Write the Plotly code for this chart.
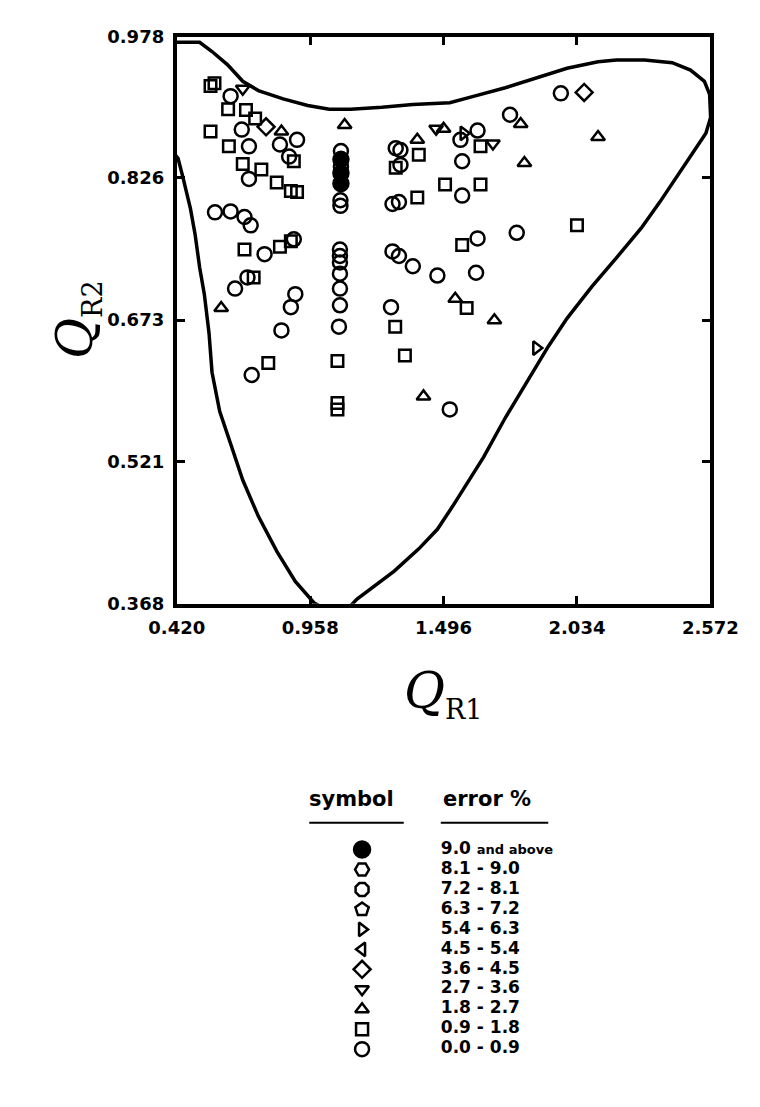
import plotly.graph_objects as go

FIG_W, FIG_H = 760, 1107

# ---------------- axis ticks ----------------
x_ticks = [0.420, 0.958, 1.496, 2.034, 2.572]
y_ticks = [0.368, 0.521, 0.673, 0.826, 0.978]

# ---------------- data ----------------
# error 0.0 - 0.9 : open circles
circ_x = [0.637, 0.682, 0.905, 0.836, 0.711, 0.873, 0.711,
          1.082, 1.082, 1.080, 1.080,
          1.078, 1.078, 1.078, 1.078, 1.078, 1.078, 1.074,
          1.303, 1.322, 1.322, 1.290, 1.316,
          1.564, 1.633, 1.571, 1.571, 1.764, 1.969, 1.791, 1.633, 1.627, 1.471,
          1.290, 1.316, 1.372, 1.284, 1.521,
          0.574, 0.637, 0.693, 0.718, 0.774, 0.892, 0.705, 0.655, 0.898, 0.880, 0.842, 0.722]
circ_y = [0.914, 0.878, 0.867, 0.862, 0.860, 0.849, 0.825,
          0.855, 0.838, 0.802, 0.796,
          0.749, 0.742, 0.735, 0.723, 0.707, 0.689, 0.666,
          0.858, 0.856, 0.840, 0.798, 0.800,
          0.867, 0.877, 0.844, 0.807, 0.894, 0.917, 0.767, 0.761, 0.724, 0.721,
          0.747, 0.742, 0.731, 0.687, 0.577,
          0.789, 0.790, 0.784, 0.775, 0.744, 0.760, 0.719, 0.707, 0.701, 0.687, 0.662, 0.614]

# error 0.9 - 1.8 : open squares
sq_x = [0.556, 0.572, 0.627, 0.699, 0.736, 0.556, 0.630, 0.892, 0.686, 0.761, 0.823, 0.880, 0.905,
        1.396, 1.303, 1.390, 1.502, 1.645, 1.645, 2.034, 1.571, 1.589,
        0.693, 0.836, 0.880, 0.730, 1.301, 0.789, 1.068, 1.340, 1.068, 1.068]
sq_y = [0.925, 0.928, 0.900, 0.899, 0.890, 0.876, 0.860, 0.844, 0.841, 0.835, 0.821, 0.812, 0.811,
        0.851, 0.837, 0.805, 0.819, 0.860, 0.819, 0.775, 0.754, 0.686,
        0.749, 0.752, 0.758, 0.719, 0.666, 0.627, 0.629, 0.635, 0.584, 0.577]

# error 1.8 - 2.7 : triangles up
tup_x = [0.842, 1.097, 1.390, 1.496, 1.807, 2.119, 1.822, 1.543, 1.701, 1.415, 0.599]
tup_y = [0.876, 0.883, 0.867, 0.879, 0.884, 0.870, 0.842, 0.696, 0.673, 0.591, 0.686]

# error 2.7 - 3.6 : triangles down
tdn_x = [0.686, 1.466, 1.695]
tdn_y = [0.922, 0.879, 0.863]

# error 3.6 - 4.5 : diamonds
dia_x = [2.063, 0.780]
dia_y = [0.918, 0.881]

# error 5.4 - 6.3 : triangles right
trr_x = [1.870, 1.577]
trr_y = [0.643, 0.874]

# error 9.0 and above : filled circles
fil_x = [1.082, 1.082, 1.082]
fil_y = [0.846, 0.831, 0.820]

# boundary of the feasible region
bnd_x = [0.4125, 0.425, 0.4435, 0.475, 0.494, 0.512, 0.531, 0.543, 0.550, 0.562, 0.593, 0.637,
         0.686, 0.749, 0.824, 0.898, 0.973, 1.048, 1.100, 1.147, 1.222, 1.297, 1.396, 1.471,
         1.533, 1.658, 1.745, 1.832, 1.919, 1.994, 2.094, 2.193, 2.293, 2.368, 2.430, 2.492,
         2.554, 2.573, 2.569, 2.548, 2.492, 2.418, 2.306, 2.193, 2.119, 1.994, 1.870, 1.745,
         1.620, 1.521, 1.372, 1.247, 1.122, 1.035, 0.948, 0.849, 0.749, 0.686, 0.624, 0.562,
         0.512, 0.419, 0.380, 0.380, 0.4125]
bnd_y = [0.851, 0.847, 0.828, 0.793, 0.765, 0.730, 0.701, 0.677, 0.659, 0.617, 0.575, 0.540,
         0.501, 0.462, 0.424, 0.392, 0.369, 0.358, 0.360, 0.373, 0.388, 0.403, 0.427, 0.448,
         0.473, 0.526, 0.568, 0.607, 0.645, 0.675, 0.709, 0.740, 0.772, 0.800, 0.825, 0.849,
         0.874, 0.891, 0.916, 0.930, 0.942, 0.950, 0.953, 0.953, 0.951, 0.944, 0.934, 0.923,
         0.914, 0.907, 0.905, 0.902, 0.900, 0.900, 0.904, 0.911, 0.920, 0.930, 0.948, 0.962,
         0.972, 0.972, 0.972, 0.851, 0.851]

# legend table
legend_labels = ["9.0 <span style='font-size:13px'>and above</span>", "8.1 - 9.0", "7.2 - 8.1",
                 "6.3 - 7.2", "5.4 - 6.3", "4.5 - 5.4", "3.6 - 4.5", "2.7 - 3.6",
                 "1.8 - 2.7", "0.9 - 1.8", "0.0 - 0.9"]
legend_symbols = ["circle", "hexagon2-open", "octagon-open", "pentagon-open",
                  "triangle-right-open", "triangle-left-open", "diamond-open",
                  "triangle-down-open", "triangle-up-open", "square-open", "circle-open"]
legend_sizes = [16, 14, 14, 14, 12, 12, 13, 12, 12, 12, 14]

# ---------------- figure ----------------
BOLD = dict(family="DejaVu Sans", color="black", weight="bold")
fig = go.Figure()

fig.add_trace(go.Scatter(x=bnd_x, y=bnd_y, mode="lines",
                         line=dict(color="black", width=3.5), hoverinfo="skip"))

series = [
    (circ_x, circ_y, "circle-open", 14),
    (sq_x, sq_y, "square-open", 11.5),
    (tup_x, tup_y, "triangle-up-open", 12),
    (tdn_x, tdn_y, "triangle-down-open", 12),
    (dia_x, dia_y, "diamond-open", 13),
    (trr_x, trr_y, "triangle-right-open", 12),
    (fil_x, fil_y, "circle", 15),
]
for xs, ys, sym, sz in series:
    fig.add_trace(go.Scatter(
        x=xs, y=ys, mode="markers",
        marker=dict(symbol=sym, size=sz, color="black", opacity=1,
                    line=dict(color="black", width=2.5)),
        cliponaxis=False))

# legend table below the plot
SYM_COL, TXT_COL = 352, 437
rows = list(range(len(legend_labels)))
fig.add_trace(go.Scatter(
    x=[SYM_COL] * len(rows), y=rows, xaxis="x2", yaxis="y2", mode="markers",
    marker=dict(symbol=legend_symbols, size=legend_sizes, color="black", opacity=1,
                line=dict(color="black", width=2.5))))
fig.add_trace(go.Scatter(
    x=[TXT_COL] * len(rows), y=rows, xaxis="x2", yaxis="y2", mode="text",
    text=legend_labels, textposition="middle right",
    textfont=dict(size=17, **BOLD)))

annotations = [
    dict(x=341, y=-2.54, xref="x2", yref="y2", text="symbol", showarrow=False,
         xanchor="center", yanchor="middle", font=dict(size=21, **BOLD)),
    dict(x=TXT_COL, y=-2.54, xref="x2", yref="y2", text="error %", showarrow=False,
         xanchor="left", yanchor="middle", font=dict(size=21, **BOLD)),
    # axis titles
    dict(x=44 / FIG_W, y=1 - 306 / FIG_H, xref="paper", yref="paper",
         text="<i>Q</i><sub><span style='font-size:27px'>R2</span></sub>",
         textangle=-90, showarrow=False, xanchor="center", yanchor="middle",
         font=dict(family="DejaVu Serif", size=50, color="black")),
    dict(x=440 / FIG_W, y=1 - 688 / FIG_H, xref="paper", yref="paper",
         text="<i>Q</i><sub><span style='font-size:27px'>R1</span></sub>",
         showarrow=False, xanchor="center", yanchor="middle",
         font=dict(family="DejaVu Serif", size=50, color="black")),
]

shapes = [
    dict(type="line", xref="x2", yref="y2", x0=295, x1=397, y0=-1.34, y1=-1.34,
         line=dict(color="black", width=2)),
    dict(type="line", xref="x2", yref="y2", x0=437, x1=553, y0=-1.34, y1=-1.34,
         line=dict(color="black", width=2)),
]

axis_common = dict(ticks="inside", ticklen=8, tickwidth=2.5, tickcolor="black",
                   showline=True, linecolor="black", linewidth=4, mirror="ticks",
                   showgrid=False, zeroline=False, tickfont=dict(size=18, **BOLD),
                   ticklabelstandoff=5)

fig.update_layout(
    width=FIG_W, height=FIG_H, margin=dict(l=0, r=0, t=0, b=0),
    paper_bgcolor="white", plot_bgcolor="white", showlegend=False,
    xaxis=dict(domain=[152 / FIG_W, 728 / FIG_W], range=[x_ticks[0], x_ticks[-1]],
               tickvals=x_ticks, ticktext=[f"{v:.3f}" for v in x_ticks], **axis_common),
    yaxis=dict(domain=[511 / FIG_H, 1089 / FIG_H], range=[y_ticks[0], y_ticks[-1]],
               tickvals=y_ticks, ticktext=[f"{v:.3f}" for v in y_ticks], **axis_common),
    xaxis2=dict(domain=[0, 1], range=[0, FIG_W], visible=False, anchor="y2"),
    yaxis2=dict(domain=[0, 0.3], range=[12.80, -3.527], visible=False, anchor="x2"),
    annotations=annotations, shapes=shapes,
)

fig.write_html("out.html")
